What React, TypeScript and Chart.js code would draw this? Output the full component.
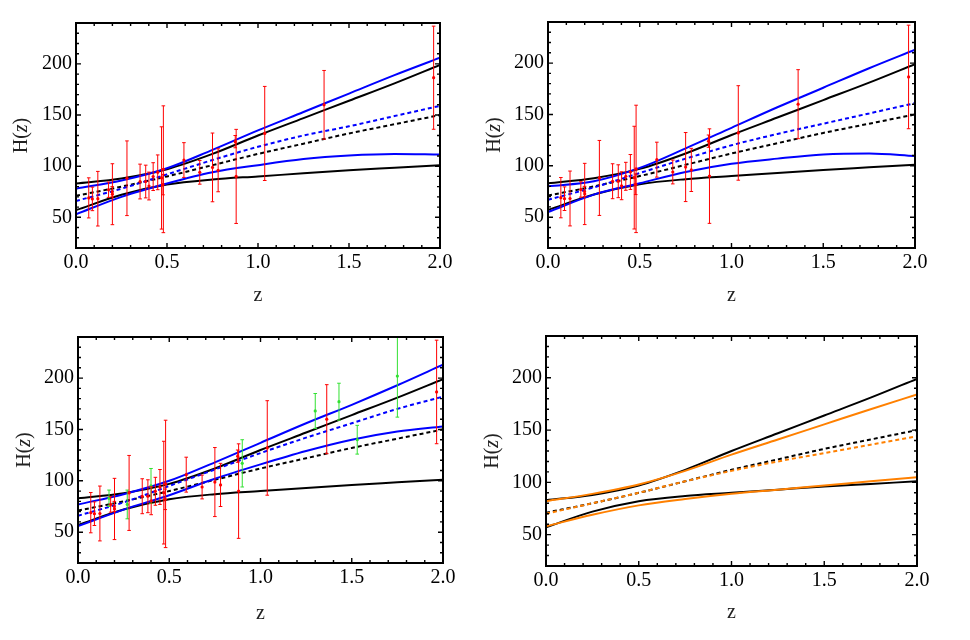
import { useEffect, useRef } from "react";
import { Chart, registerables } from "chart.js";

Chart.register(...registerables);

const zGrid = [0, 0.25, 0.5, 0.75, 1.0, 1.25, 1.5, 1.75, 2.0];

// black reference band, the same in every panel
const refUpper = [83, 88, 97, 112, 130, 147, 164, 181, 199];
const refMid = [71, 80, 90, 101, 112, 122, 132, 141, 150];
const refLower = [57, 72, 82, 87, 90, 93, 96, 98.5, 101];

// top left (blue)
const p1Upper = [78, 86, 98, 116, 135, 153, 171, 189, 206];
const p1Mid = [66, 78, 92, 106, 119, 130, 139, 149, 159];
const p1Lower = [53, 70, 83, 94, 101, 107, 110.5, 112, 111.5];

// top right (blue)
const p2Upper = [80, 85, 98, 117, 137, 157, 176, 195, 213];
const p2Mid = [67, 79, 93, 107, 120, 131, 141, 151, 161];
const p2Lower = [55, 72, 83, 94, 102, 107, 111, 112, 109.5];

// bottom left (blue)
const p3Upper = [77, 87, 100, 118, 137, 156, 174, 193, 213];
const p3Mid = [66, 79, 95, 111, 127, 142, 156, 170, 182];
const p3Lower = [56, 72, 86, 102, 116, 129, 140, 148, 153];

// bottom right (orange)
const p4Upper = [82, 89, 98, 111, 126.5, 141, 155.5, 170, 184];
const p4Mid = [70, 80, 90, 101, 111, 120, 128, 136, 144];
const p4Lower = [58, 69, 78, 84, 89, 93, 97, 101, 105];

// red H(z) measurements
const redZ = [0.07, 0.09, 0.12, 0.179, 0.199, 0.2, 0.28, 0.352, 0.383, 0.401, 0.424, 0.449, 0.47, 0.478, 0.48, 0.593, 0.68, 0.75, 0.781, 0.875, 0.88, 1.037, 1.363, 1.965];
const redH = [69, 68, 68.2, 77, 75, 72.6, 88.2, 85, 85, 80.6, 89.8, 94, 88.5, 82, 97, 106, 94, 98.8, 96, 124, 90, 132, 160, 186.5];
const redErr = [19.6, 11.5, 26.7, 7.5, 5, 29.8, 36.5, 17, 16, 13.6, 13.6, 17, 50, 10, 62, 17, 11.6, 33.6, 21, 6, 46, 46, 33.6, 50.4];

// green H(z) measurements (bottom left only)
const greenZ = [0.17, 0.27, 0.4, 0.9, 1.3, 1.43, 1.53, 1.75];
const greenH = [83, 77, 95, 117, 168, 177, 140, 202];
const greenErr = [8, 14, 17, 23, 17, 18, 14, 40];

const xTicks = [0, 0.5, 1, 1.5, 2];
const yTicks = [50, 100, 150, 200];

const BLUE = "rgb(0,0,255)";
const BLACK = "#000";
const ORANGE = "rgb(255,128,0)";
const RED = "rgb(255,0,0)";
const GREEN = "rgb(50,225,50)";
const SERIF = '"Liberation Serif", "Times New Roman", serif';

const curve = (ys: number[], color: string, dashed = false) => ({
  data: zGrid.map((z, i) => ({ x: z, y: ys[i] })),
  borderColor: color,
  borderWidth: 2,
  borderDash: dashed ? [4, 3] : [],
  pointRadius: 0,
  cubicInterpolationMode: "monotone",
  fill: false,
});

// one dataset per series: low/high pairs split by null gaps, caps drawn as 'line' points
const errorBars = (zs: number[], hs: number[], es: number[], color: string) => ({
  data: zs.flatMap((z, i) => [
    { x: z, y: hs[i] - es[i] },
    { x: z, y: hs[i] + es[i] },
    { x: z, y: null },
  ]),
  borderColor: color,
  borderWidth: 1,
  pointStyle: "line",
  pointRadius: 1.8,
  pointBorderColor: color,
  pointBorderWidth: 1,
  spanGaps: false,
  fill: false,
});

const centers = (zs: number[], hs: number[], color: string) => ({
  data: zs.map((z, i) => ({ x: z, y: hs[i] })),
  showLine: false,
  pointRadius: 1.6,
  pointBackgroundColor: color,
  pointBorderWidth: 0,
});

const refBand = () => [curve(refMid, BLACK, true), curve(refUpper, BLACK), curve(refLower, BLACK)];

// frame with inward ticks on all four sides
const framePlugin = {
  id: "frame",
  afterDatasetsDraw(chart: any) {
    const { ctx, chartArea: a, scales } = chart;
    const sx = scales.x;
    const sy = scales.y;
    ctx.save();
    ctx.strokeStyle = "#000";
    ctx.lineWidth = 1.4;
    ctx.beginPath();
    for (let i = 0; i <= 20; i++) {
      const px = sx.getPixelForValue(i / 10);
      const len = i % 5 === 0 ? 5 : 3;
      ctx.moveTo(px, a.bottom);
      ctx.lineTo(px, a.bottom - len);
      ctx.moveTo(px, a.top);
      ctx.lineTo(px, a.top + len);
    }
    for (let v = 20; v <= 240; v += 10) {
      const py = sy.getPixelForValue(v);
      const len = v % 50 === 0 ? 5 : 3;
      ctx.moveTo(a.left, py);
      ctx.lineTo(a.left + len, py);
      ctx.moveTo(a.right, py);
      ctx.lineTo(a.right - len, py);
    }
    ctx.stroke();
    ctx.lineWidth = 2;
    ctx.strokeRect(a.left, a.top, a.right - a.left, a.bottom - a.top);
    ctx.restore();
  },
};

// "H(z)" with an italic z, rotated, centred on the plot height
const yTitlePlugin = {
  id: "yTitle",
  afterDraw(chart: any, _args: any, opts: any) {
    const { ctx, chartArea: a } = chart;
    const parts: [string, string][] = [
      ["H(", "normal"],
      ["z", "italic"],
      [")", "normal"],
    ];
    ctx.save();
    ctx.translate(opts.x, (a.top + a.bottom) / 2);
    ctx.rotate(-Math.PI / 2);
    ctx.fillStyle = "#222";
    ctx.textBaseline = "middle";
    const widths = parts.map(([t, s]) => {
      ctx.font = `${s} 20px ${SERIF}`;
      return ctx.measureText(t).width;
    });
    let x = -widths.reduce((p, c) => p + c, 0) / 2;
    parts.forEach(([t, s], i) => {
      ctx.font = `${s} 20px ${SERIF}`;
      ctx.fillText(t, x, 0);
      x += widths[i];
    });
    ctx.restore();
  },
};

interface PanelProps {
  left: number;
  top: number;
  yAxisWidth: number;
  padRight: number;
  padTop: number;
  xAxisHeight: number;
  yTitleX: number;
  xTitlePad: number;
  datasets: any[];
}

function Panel(props: PanelProps) {
  const canvasRef = useRef<HTMLCanvasElement>(null);

  useEffect(() => {
    if (!canvasRef.current) return;
    const tickFont = { family: SERIF, size: 20, lineHeight: 1.2 };
    const titleFont = { family: SERIF, size: 20, lineHeight: 1 };

    const chart = new Chart(canvasRef.current, {
      type: "line",
      data: { datasets: props.datasets },
      options: {
        responsive: true,
        maintainAspectRatio: false,
        animation: false,
        events: [],
        layout: { padding: { left: 0, right: props.padRight, top: props.padTop, bottom: 0 } },
        plugins: {
          legend: { display: false },
          tooltip: { enabled: false },
          yTitle: { x: props.yTitleX },
        },
        scales: {
          x: {
            type: "linear",
            min: 0,
            max: 2,
            grid: { display: false, drawTicks: false },
            border: { display: false },
            afterBuildTicks: (s: any) => {
              s.ticks = xTicks.map((v) => ({ value: v }));
            },
            afterFit: (s: any) => {
              s.height = props.xAxisHeight;
            },
            ticks: {
              color: "#000",
              font: tickFont,
              padding: 3,
              maxRotation: 0,
              autoSkip: false,
              callback: (v: any) => Number(v).toFixed(1),
            },
            title: {
              display: true,
              text: "z",
              color: "#222",
              font: titleFont,
              padding: { top: 0, bottom: props.xTitlePad },
            },
          },
          y: {
            type: "linear",
            min: 20,
            max: 240,
            grid: { display: false, drawTicks: false },
            border: { display: false },
            afterBuildTicks: (s: any) => {
              s.ticks = yTicks.map((v) => ({ value: v }));
            },
            afterFit: (s: any) => {
              s.width = props.yAxisWidth;
            },
            ticks: { color: "#000", font: tickFont, padding: 4 },
          },
        },
      } as any,
      plugins: [framePlugin, yTitlePlugin],
    });

    return () => {
      chart.destroy();
    };
  }, [props]);

  return (
    <div style={{ position: "absolute", left: props.left, top: props.top, width: 480, height: 320 }}>
      <canvas ref={canvasRef} />
    </div>
  );
}

const panel1 = [
  errorBars(redZ, redH, redErr, RED),
  centers(redZ, redH, RED),
  curve(p1Mid, BLUE, true),
  curve(p1Upper, BLUE),
  curve(p1Lower, BLUE),
  ...refBand(),
];

const panel2 = [
  errorBars(redZ, redH, redErr, RED),
  centers(redZ, redH, RED),
  curve(p2Mid, BLUE, true),
  curve(p2Upper, BLUE),
  curve(p2Lower, BLUE),
  ...refBand(),
];

const panel3 = [
  errorBars(redZ, redH, redErr, RED),
  centers(redZ, redH, RED),
  errorBars(greenZ, greenH, greenErr, GREEN),
  centers(greenZ, greenH, GREEN),
  curve(p3Mid, BLUE, true),
  curve(p3Upper, BLUE),
  curve(p3Lower, BLUE),
  ...refBand(),
];

const panel4 = [
  curve(p4Mid, ORANGE, true),
  curve(p4Upper, ORANGE),
  curve(p4Lower, ORANGE),
  ...refBand(),
];

const layouts = [
  { left: 0, top: 0, yAxisWidth: 76, padRight: 40, padTop: 23, xAxisHeight: 72, yTitleX: 22, xTitlePad: 14, datasets: panel1 },
  { left: 480, top: 0, yAxisWidth: 68, padRight: 45, padTop: 22, xAxisHeight: 72, yTitleX: 15, xTitlePad: 14, datasets: panel2 },
  { left: 0, top: 320, yAxisWidth: 78, padRight: 37, padTop: 17, xAxisHeight: 77, yTitleX: 25, xTitlePad: 16, datasets: panel3 },
  { left: 480, top: 320, yAxisWidth: 66, padRight: 43, padTop: 16, xAxisHeight: 74, yTitleX: 13, xTitlePad: 17, datasets: panel4 },
];

export default function App() {
  return (
    <div style={{ position: "absolute", left: 0, top: 0, width: 970, height: 640, background: "#fff" }}>
      {layouts.map((p, i) => (
        <Panel key={i} {...p} />
      ))}
    </div>
  );
}
